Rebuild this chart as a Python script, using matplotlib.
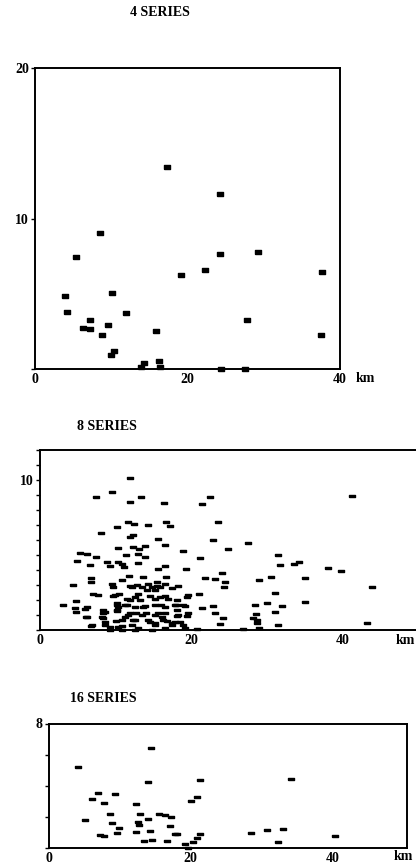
import matplotlib
matplotlib.use("Agg")
import matplotlib.pyplot as plt

# ---------------- data ----------------
# 4 SERIES
x4 = [17.35, 24.3, 8.52, 5.38, 24.3, 29.3, 22.3, 19.2, 37.6, 3.93, 10.06, 4.15, 11.9,
      7.26, 6.25, 7.26, 9.57, 8.79, 27.8, 15.9, 37.5, 10.3, 9.92, 14.3, 13.9, 16.3, 16.4,
      24.4, 27.6]
y4 = [13.4, 11.65, 9.04, 7.42, 7.62, 7.75, 6.56, 6.22, 6.44, 4.83, 5.03, 3.76, 3.74,
      3.26, 2.75, 2.68, 2.9, 2.26, 3.23, 2.5, 2.26, 1.22, 0.93, 0.38, 0.11, 0.51, 0.11,
      0.0, 0.0]

# 8 SERIES
x8 = [11.92, 7.44, 9.51, 11.92, 13.33, 16.4, 21.4, 22.5, 11.71, 10.17, 14.25, 16.7,
      17.24, 23.5, 8.06, 11.92, 15.66, 22.86, 10.3, 12.36, 13.15, 13.94, 16.53, 24.8,
      18.95, 5.34, 6.22, 4.9, 7.4, 11.36, 13.0, 13.9, 21.15, 6.69, 8.93, 9.32, 10.38,
      10.82, 11.1, 12.94, 16.53, 15.66, 19.3, 24.0, 6.78, 6.74, 4.46, 9.51, 9.73, 11.84,
      11.92, 12.8, 13.68, 14.25, 15.44, 15.5, 16.66, 16.53, 18.3, 21.8, 23.1, 24.35, 24.5,
      7.09, 9.73, 10.5, 12.94, 14.1, 14.6, 15.22, 15.9, 16.53, 19.6, 21.06, 3.05, 4.81,
      6.04, 4.81, 6.13, 6.74, 8.41, 8.32, 8.19, 8.63, 10.25, 10.39, 10.25, 10.08, 10.82,
      9.29, 11.92, 11.48, 12.72, 11.92, 11.27, 12.36, 13.02, 13.24, 13.9, 14.03, 14.56,
      15.22, 15.66, 15.97, 16.1, 16.75, 17.41, 17.94, 18.16, 18.07, 19.2, 19.4, 18.5,
      20.7, 21.37, 22.8, 23.1, 23.8, 24.2, 41.2, 27.5, 31.4, 31.7, 33.5, 34.15, 37.97,
      39.7, 43.8, 30.46, 28.9, 35.0, 31.0, 28.35, 29.97, 31.9, 35.0, 28.5, 31.0, 28.1,
      28.6, 28.6, 31.4, 28.9, 26.85, 43.1,
      10.83, 12.14, 13.46, 14.78, 15.87, 17.41, 7.75, 9.95, 11.48, 12.58, 15.21, 16.97,
      18.07, 19.39, 4.69, 6.22, 10.17, 11.26, 12.58, 13.68, 15.21, 16.53, 17.85, 18.95,
      8.63, 10.17, 11.7, 13.46, 15.21, 16.53, 18.29, 19.61, 6.22, 8.41, 10.83, 12.58,
      14.34, 16.32, 17.85, 6.87, 8.63, 10.39, 12.14, 15.21, 17.41, 18.95, 9.29, 10.83,
      12.58, 14.78, 16.53, 19.17, 12.45, 12.36]
y8 = [10.11, 8.89, 9.2, 8.56, 8.85, 8.47, 8.4, 8.86, 7.19, 6.88, 7.01, 7.23, 6.92, 7.23,
      6.46, 6.19, 6.08, 6.02, 5.49, 5.53, 5.42, 5.62, 5.69, 5.42, 5.26, 5.11, 5.05, 4.6,
      4.87, 4.98, 5.07, 4.87, 4.83, 4.31, 4.53, 4.25, 4.53, 4.38, 4.18, 4.47, 4.27, 4.09,
      4.07, 3.8, 3.5, 3.21, 3.03, 3.05, 2.87, 3.58, 2.94, 2.98, 3.54, 3.05, 3.21, 2.91,
      3.54, 3.05, 2.91, 3.5, 3.41, 2.87, 3.21, 2.43, 2.28, 2.39, 2.43, 2.65, 2.28, 2.65,
      2.21, 2.25, 2.34, 2.37, 1.68, 1.95, 1.42, 1.19, 0.84, 0.27, 1.33, 1.11, 0.84, 0.55,
      1.77, 1.55, 1.28, 0.62, 0.29, 0.18, 1.99, 1.66, 1.15, 1.15, 0.88, 0.66, 0.11, 1.99,
      1.62, 1.11, 0.55, 0.44, 1.11, 1.64, 0.88, 0.59, 0.33, 1.64, 1.33, 0.93, 1.62, 0.93,
      0.53, 0.04, 1.44, 1.62, 1.11, 0.4, 0.77, 8.96, 5.79, 5.0, 4.36, 4.42, 4.56, 4.11,
      3.94, 2.85, 3.56, 3.36, 3.47, 2.45, 1.7, 1.8, 1.62, 1.9, 1.08, 1.17, 0.77, 0.66,
      0.49, 0.33, 0.11, 0.09, 0.49,
      3.32, 2.87, 2.9, 2.9, 2.87, 2.77, 2.32, 2.32, 2.1, 2.21, 2.1, 2.1,
      1.99, 2.21, 1.45, 1.56, 1.66, 1.66, 1.55, 1.55, 1.7, 1.55, 1.66, 1.66,
      1.22, 1.33, 1.0, 1.0, 1.0, 1.11, 1.0, 1.11, 0.89, 0.78, 0.66, 0.66,
      0.66, 0.66, 0.55, 0.33, 0.33, 0.22, 0.33, 0.33, 0.44, 0.33, 0.0, 0.0,
      0.0, 0.0, 0.11, 0.11, 7.08, 6.35]

# 16 SERIES
x16 = [14.39, 4.2, 13.97, 21.4, 34.15, 6.93, 9.41, 6.17, 7.82, 12.37, 20.87, 20.1, 5.1,
       8.66, 12.84, 15.56, 16.4, 17.3, 13.97, 8.99, 12.56, 12.7, 9.88, 17.07, 7.25, 7.86,
       9.65, 12.28, 14.25, 17.8, 18.14, 21.3, 20.87, 20.4, 19.18, 19.6, 13.45, 14.62,
       16.69, 28.52, 30.77, 33.03, 32.32, 40.3]
y16 = [6.45, 5.19, 4.25, 4.38, 4.46, 3.54, 3.5, 3.18, 2.92, 2.84, 3.31, 3.05, 1.81, 2.2,
       2.18, 2.22, 2.13, 2.0, 1.9, 1.64, 1.71, 1.49, 1.3, 1.41, 0.85, 0.81, 0.98, 1.04,
       1.09, 0.94, 0.9, 0.9, 0.66, 0.38, 0.28, 0.04, 0.45, 0.53, 0.47, 0.96, 1.15, 1.22,
       0.38, 0.77]

titles = ["4 SERIES", "8 SERIES", "16 SERIES"]

# ---------------- style ----------------
FONT = dict(family="Liberation Serif", weight="bold", size=10)
DPI = 100
W, H = 416, 867
fig = plt.figure(figsize=(W / DPI, H / DPI), dpi=DPI)


def rect(aspect):
    return [(-1, -aspect), (1, -aspect), (1, aspect), (-1, aspect), (-1, -aspect)]


def axes_px(left, right, top, bottom):
    return fig.add_axes([left / W, 1 - bottom / H, (right - left) / W, (bottom - top) / H])


def style_axes(ax):
    for s in ax.spines.values():
        s.set_linewidth(1.4)
    ax.tick_params(axis="both", direction="out", length=3, width=1.0, pad=1.5,
                   labelsize=FONT["size"])
    for lab in ax.get_xticklabels() + ax.get_yticklabels():
        lab.set_fontfamily(FONT["family"])
        lab.set_fontweight("bold")


# Panel 1: 4 SERIES
ax1 = axes_px(35, 340, 68, 369)
ax1.plot(x4, y4, linestyle="none", marker=rect(0.62), markersize=4.2,
         color="black", clip_on=False)
ax1.set_xlim(0, 40)
ax1.set_ylim(0, 20)
ax1.set_xticks([0, 20, 40])
ax1.set_xticklabels(["0", "20", "40"])
ax1.set_yticks([0, 10, 20])
ax1.set_yticklabels(["", "10", "20"])
style_axes(ax1)
ax1.tick_params(axis="x", length=0, pad=3)
fig.text(356 / W, 1 - 378 / H, "km", ha="left", va="center", **FONT)
fig.text(160 / W, 1 - 13 / H, titles[0], ha="center", va="center", **FONT)

# Panel 2: 8 SERIES
ax2 = axes_px(39.5, 416, 450, 630)
ax2.plot(x8, y8, linestyle="none", marker=rect(0.42), markersize=4.6,
         color="black", clip_on=False)
ax2.set_xlim(0, (416 - 39.5) / 7.59)
ax2.set_ylim(0, 12)
ax2.set_xticks([0, 20, 40])
ax2.set_xticklabels(["0", "20", "40"])
ax2.set_yticks(list(range(0, 13)))
ax2.set_yticklabels(["10" if v == 10 else "" for v in range(0, 13)])
style_axes(ax2)
ax2.spines["right"].set_visible(False)
ax2.tick_params(axis="x", length=0, pad=3)
fig.text(415 / W, 1 - 640 / H, "km", ha="right", va="center", **FONT)
fig.text(77 / W, 1 - 427 / H, titles[1], ha="left", va="center", **FONT)

# Panel 3: 16 SERIES
ax3 = axes_px(48.5, 407, 723.5, 848.3)
ax3.plot(x16, y16, linestyle="none", marker=rect(0.4), markersize=4.4,
         color="black", clip_on=False)
ax3.set_xlim(0, (407 - 48.5) / 7.1)
ax3.set_ylim(0, 8)
ax3.set_xticks([0, 20, 40])
ax3.set_xticklabels(["0", "20", "40"])
ax3.set_yticks([0, 2, 4, 6, 8])
ax3.set_yticklabels(["", "", "", "", "8"])
style_axes(ax3)
ax3.tick_params(axis="x", length=0, pad=3)
fig.text(403 / W, 1 - 857 / H, "km", ha="center", va="center", **FONT)
fig.text(70 / W, 1 - 699 / H, titles[2], ha="left", va="center", **FONT)

fig.savefig("out.png", dpi=DPI)
